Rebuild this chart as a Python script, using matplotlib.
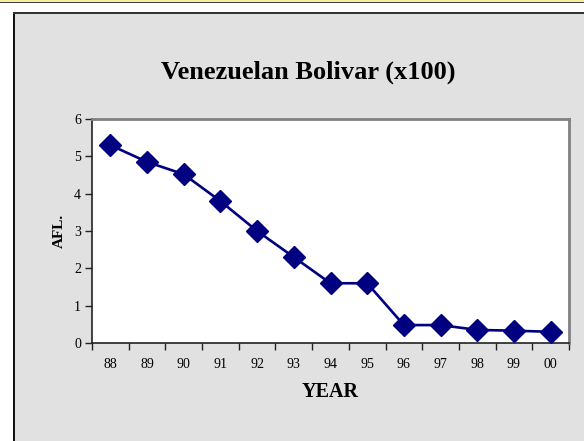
import matplotlib
matplotlib.use("Agg")
import matplotlib.pyplot as plt
from matplotlib.patches import Rectangle

# Bolivar exchange rate (x100), 1988-2000
years = ["88", "89", "90", "91", "92", "93", "94", "95", "96", "97", "98", "99", "00"]
rates = [5.3, 4.85, 4.52, 3.8, 3.0, 2.3, 1.6, 1.6, 0.48, 0.48, 0.35, 0.33, 0.3]
y_ticks = [0, 1, 2, 3, 4, 5, 6]

plt.rcParams["font.family"] = ["Liberation Serif", "DejaVu Serif"]

W, H = 584, 441
fig = plt.figure(figsize=(W / 100, H / 100), dpi=100, facecolor="white")


def band(x0, y0, w, h, color):
    # rectangle in pixel units, measured from the top-left corner
    fig.patches.append(Rectangle((x0 / W, 1 - (y0 + h) / H), w / W, h / H,
                                 transform=fig.transFigure, facecolor=color,
                                 edgecolor="none", zorder=-1))


# thin yellow strip at the very top
band(0, 0, W, 2.5, "#f4f0a0")
band(0, 2, W, 1, "#404040")

# gray chart panel with dark left/top border
band(13.5, 13.5, W, H, "#e1e1e1")
band(12.5, 12.5, 2, H, "#111111")
band(12.5, 12.5, W, 1.8, "#333333")

ax = fig.add_axes([92 / W, 1 - 343 / H, (569 - 92) / W, (343 - 119) / H])
ax.set_facecolor("white")

x = list(range(len(years)))
ax.plot(x, rates, color="#000080", linewidth=1.9, marker="D", markersize=11,
        markerfacecolor="#000080", markeredgecolor="#000080", clip_on=False, zorder=3)

ax.set_xlim(-0.5, len(years) - 0.5)
ax.set_ylim(0, 6)
ax.set_yticks(y_ticks)
ax.set_yticklabels([str(v) for v in y_ticks], fontsize=10)

# category labels centred, tick marks on category boundaries
ax.set_xticks(x)
ax.set_xticklabels(years, fontsize=10)
ax.set_xticks([i - 0.5 for i in range(len(years) + 1)], minor=True)
ax.tick_params(axis="x", which="major", length=0, pad=11)
ax.tick_params(axis="x", which="minor", length=5, width=1, direction="out", color="#222222")
ax.tick_params(axis="y", length=5, width=1, direction="out", color="#222222", pad=3)

for side in ("top", "right"):
    ax.spines[side].set_color("#808080")
    ax.spines[side].set_linewidth(2)
for side in ("left", "bottom"):
    ax.spines[side].set_color("#222222")
    ax.spines[side].set_linewidth(1.2)

fig.text(308 / W, 1 - 72 / H, "Venezuelan Bolivar (x100)",
         ha="center", va="center", fontsize=19, fontweight="bold")
fig.text(330 / W, 1 - 392 / H, "YEAR", ha="center", va="center",
         fontsize=14.5, fontweight="bold")
fig.text(59 / W, 1 - 231 / H, "AFL.", ha="center", va="center", rotation=90,
         fontsize=11, fontweight="bold")

fig.savefig("out.png", dpi=100, facecolor="white")
